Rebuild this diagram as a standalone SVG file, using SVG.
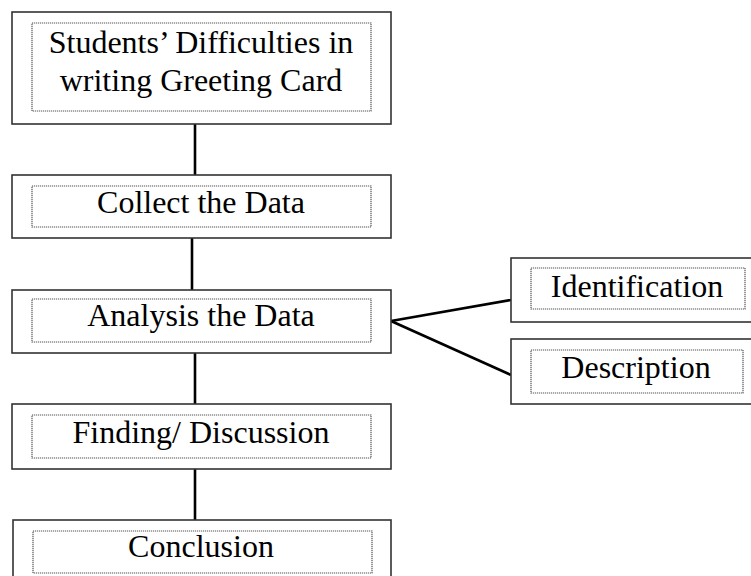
<svg xmlns="http://www.w3.org/2000/svg" width="751" height="576" viewBox="0 0 751 576">
<style>
.outer{fill:#fff;stroke:#333;stroke-width:1.6}
.inner{fill:none;stroke:#555;stroke-width:1.2;stroke-dasharray:1.2 0.8}
.lbl{font-family:"Liberation Serif","Times New Roman",serif;font-size:32px;fill:#000;text-anchor:middle}
.conn line{stroke:#000;stroke-width:2.6}
</style>
<rect width="751" height="576" fill="#fff"/>
<g class="conn">
<line x1="195" y1="124" x2="195" y2="175"/>
<line x1="192" y1="238" x2="192" y2="290"/>
<line x1="195" y1="353" x2="195" y2="404"/>
<line x1="195" y1="469" x2="195" y2="520"/>
<line x1="391" y1="321" x2="511" y2="300"/>
<line x1="391" y1="321" x2="511" y2="375"/>
</g>
<g id="difficulties">
<rect class="outer" x="12" y="12" width="379" height="112"/>
<rect class="inner" x="32" y="23" width="339" height="88"/>
<text class="lbl" x="201" y="53">Students’ Difficulties in</text>
<text class="lbl" x="201" y="91">writing Greeting Card</text>
</g>
<g id="collect">
<rect class="outer" x="12" y="175" width="379" height="63"/>
<rect class="inner" x="32" y="186" width="339" height="41"/>
<text class="lbl" x="201" y="213">Collect the Data</text>
</g>
<g id="analysis">
<rect class="outer" x="12" y="290" width="379" height="63"/>
<rect class="inner" x="32" y="299" width="339" height="43"/>
<text class="lbl" x="201" y="326">Analysis the Data</text>
</g>
<g id="finding">
<rect class="outer" x="12" y="404" width="379" height="65"/>
<rect class="inner" x="32" y="415" width="339" height="43"/>
<text class="lbl" x="201" y="443">Finding/ Discussion</text>
</g>
<g id="conclusion">
<rect class="outer" x="13" y="520" width="378" height="70"/>
<rect class="inner" x="33" y="531" width="339" height="42"/>
<text class="lbl" x="201" y="557">Conclusion</text>
</g>
<g id="identification">
<rect class="outer" x="511" y="258" width="245" height="64"/>
<rect class="inner" x="531" y="268" width="214" height="41"/>
<text class="lbl" x="637" y="297">Identification</text>
</g>
<g id="description">
<rect class="outer" x="511" y="339" width="245" height="65"/>
<rect class="inner" x="531" y="350" width="212" height="43"/>
<text class="lbl" x="636" y="378">Description</text>
</g>
</svg>
